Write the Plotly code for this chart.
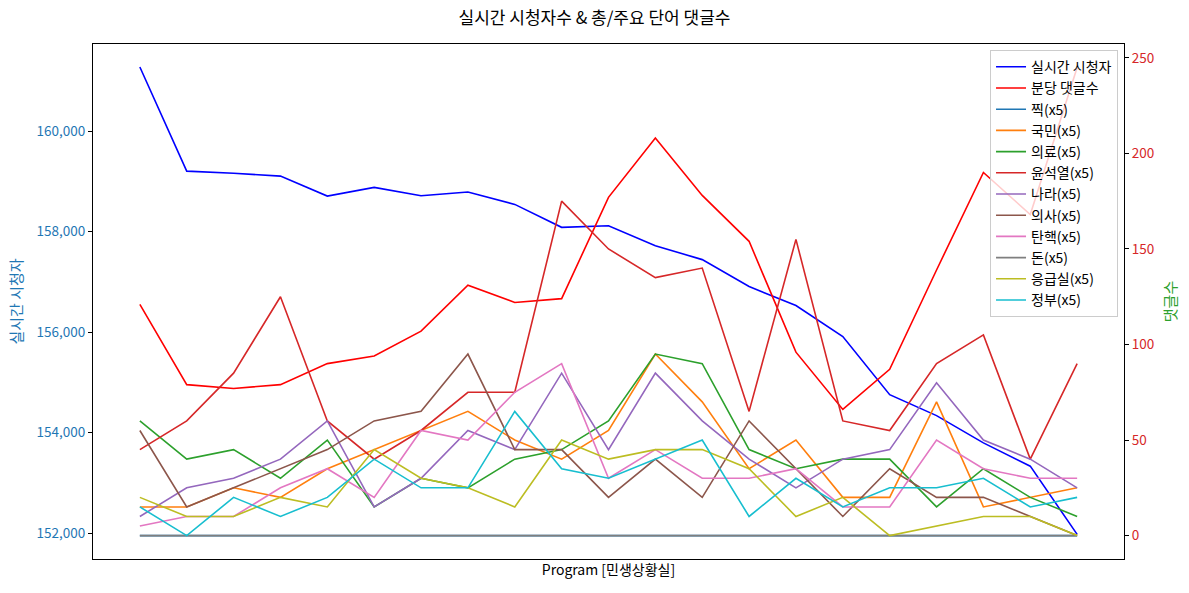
import plotly.graph_objects as go

# ---- data ----
programs = list(range(21))
viewers = [161272, 159202, 159160, 159103, 158706, 158879, 158712, 158786, 158541, 158085,
           158117, 157720, 157443, 156907, 156530, 155912, 154758, 154341, 153799, 153336, 151980]
comments_per_min = [121, 79, 77, 79, 90, 94, 107, 131, 122, 124,
                    177, 208, 178, 154, 96, 66, 87, 139, 190, 168, 245]

kw_names = ["찍", "국민", "의료", "윤석열", "나라", "의사", "탄핵", "돈", "응급실", "정부"]
kw_jjik = [0] * 21
kw_gukmin = [15, 15, 25, 20, 35, 45, 55, 65, 50, 40, 55, 95, 70, 35, 50, 20, 20, 70, 15, 20, 25]
kw_uiryo = [60, 40, 45, 30, 50, 15, 30, 25, 40, 45, 60, 95, 90, 45, 35, 40, 40, 15, 35, 20, 10]
kw_yoon = [45, 60, 85, 125, 60, 40, 55, 75, 75, 175, 150, 135, 140, 65, 155, 60, 55, 90, 105, 40, 90]
kw_nara = [10, 25, 30, 40, 60, 15, 30, 55, 45, 85, 45, 85, 60, 40, 25, 40, 45, 80, 50, 40, 25]
kw_uisa = [55, 15, 25, 35, 45, 60, 65, 95, 45, 45, 20, 40, 20, 60, 35, 10, 35, 20, 20, 10, 0]
kw_tanhaek = [5, 10, 10, 25, 35, 20, 55, 50, 75, 90, 30, 45, 30, 30, 35, 15, 15, 50, 35, 30, 30]
kw_don = [0] * 21
kw_eungeup = [20, 10, 10, 20, 15, 45, 30, 25, 15, 50, 40, 45, 45, 35, 10, 20, 0, 5, 10, 10, 0]
kw_jeongbu = [15, 0, 20, 10, 20, 40, 25, 25, 65, 35, 30, 40, 50, 10, 30, 15, 25, 25, 30, 15, 20]
kw_values = [kw_jjik, kw_gukmin, kw_uiryo, kw_yoon, kw_nara, kw_uisa, kw_tanhaek, kw_don,
             kw_eungeup, kw_jeongbu]
kw_colors = ["#1f77b4", "#ff7f0e", "#2ca02c", "#d62728", "#9467bd",
             "#8c564b", "#e377c2", "#7f7f7f", "#bcbd22", "#17becf"]

left_ticks = [152000, 154000, 156000, 158000, 160000]
right_ticks = [0, 50, 100, 150, 200, 250]

FONT = "Noto Sans CJK KR, Noto Sans, DejaVu Sans, sans-serif"

fig = go.Figure()
fig.add_trace(go.Scatter(x=programs, y=viewers, mode="lines", name="실시간 시청자",
                         line=dict(color="blue", width=1.6), yaxis="y"))
fig.add_trace(go.Scatter(x=programs, y=comments_per_min, mode="lines", name="분당 댓글수",
                         line=dict(color="red", width=1.6), yaxis="y2"))
for name, vals, col in zip(kw_names, kw_values, kw_colors):
    fig.add_trace(go.Scatter(x=programs, y=vals, mode="lines", name=f"{name}(x5)",
                             line=dict(color=col, width=1.6), yaxis="y2"))

fig.update_layout(
    width=1189, height=593,
    margin=dict(l=93, r=63, t=44, b=34),
    paper_bgcolor="white", plot_bgcolor="white",
    font=dict(family=FONT, size=13, color="black"),
    title=dict(text="실시간 시청자수 & 총/주요 단어 댓글수", x=0.5, xref="container",
               y=1 - 18 / 593, yref="container", yanchor="middle", xanchor="center",
               font=dict(size=17, color="black")),
    xaxis=dict(range=[-1, 21], showticklabels=False, ticks="", showgrid=False, zeroline=False,
               showline=True, linecolor="black", linewidth=1, mirror=True,
               title=dict(text="Program [민생상황실]", font=dict(size=14), standoff=6)),
    yaxis=dict(range=[151490, 161730], tickvals=left_ticks, tickformat=",d",
               showgrid=False, zeroline=False, showline=True, linecolor="black", linewidth=1,
               ticks="outside", ticklen=4, tickcolor="black",
               tickfont=dict(color="#1f77b4", size=13.5),
               title=dict(text="실시간 시청자", font=dict(color="#1f77b4", size=15), standoff=10)),
    yaxis2=dict(range=[-12.25, 257.25], tickvals=right_ticks, overlaying="y", side="right",
                showgrid=False, zeroline=False, showline=True, linecolor="black", linewidth=1,
                ticks="outside", ticklen=4, tickcolor="black",
                tickfont=dict(color="#d62728", size=13.5),
                title=dict(text="댓글수", font=dict(color="#2ca02c", size=15), standoff=12)),
    legend=dict(x=0.9942, xanchor="right", y=0.988, yanchor="top",
                bgcolor="rgba(255,255,255,0.8)", bordercolor="#cccccc", borderwidth=1,
                font=dict(size=14), tracegroupgap=0),
    showlegend=True,
)

fig.write_html("out.html")
